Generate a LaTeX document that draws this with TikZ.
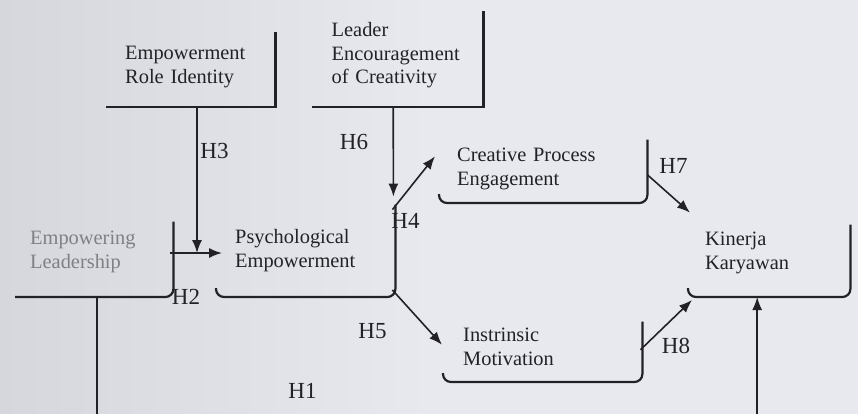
\documentclass[tikz,border=0pt]{standalone}
\usepackage{fontspec}
\setmainfont{Liberation Serif}
\usetikzlibrary{arrows.meta, positioning, calc}

\definecolor{paper}{RGB}{232,233,238}
\definecolor{paperdark}{RGB}{214,215,220}
\definecolor{ink}{RGB}{34,34,38}
\definecolor{faded}{RGB}{128,128,132}

\begin{document}
\begin{tikzpicture}[
    x=1pt, y=-1pt,
    varbox/.style={anchor=south west, align=left, inner ysep=0pt, text=ink,
      font=\fontsize{20.4}{23.4}\selectfont},
    boxline/.style={draw=ink, line width=2.2pt},
    arr/.style={draw=ink, line width=1.6pt, -{Latex[length=13pt,width=10pt]}},
    hyp/.style={text=ink, inner sep=0pt, font=\fontsize{23}{24}\selectfont}
  ]
  \useasboundingbox (0,0) rectangle (858,413);
  \shade[left color=paperdark, right color=paper, middle color=paper] (0,0) rectangle (858,413);
  \clip (0,0) rectangle (858,413);

  % variables
  \node[varbox, inner xsep=19pt, text width=131pt, text height=28pt, text depth=47pt]
    (eri) at (106,107) {Empowerment\\Role Identity};
  \node[varbox, inner xsep=19.5pt, text width=132pt, text height=26pt, text depth=70pt]
    (lec) at (312,107) {Leader\\Encouragement\\of Creativity};
  \node[varbox, inner xsep=18pt, text width=172pt, text height=22pt, text depth=41pt]
    (cpe) at (439,203) {Creative Process\\Engagement};
  \node[varbox, inner xsep=15pt, text width=128pt, text height=23pt, text depth=52pt, text=faded]
    (el) at (15,297) {Empowering\\Leadership};
  \node[varbox, inner xsep=19pt, text width=141pt, text height=39pt, text depth=53pt]
    (pe) at (216,297) {Psychological\\Empowerment};
  \node[varbox, inner xsep=17pt, text width=128pt, text height=21pt, text depth=51pt]
    (kk) at (688,297) {Kinerja\\Karyawan};
  \node[varbox, inner xsep=20pt, text width=159pt, text height=20pt, text depth=40pt]
    (im) at (443,382) {Instrinsic\\Motivation};

  % box edges
  \foreach \b in {eri, lec}
    \draw[boxline] (\b.south west) -- (\b.south east) -- (\b.north east);
  \draw[boxline, rounded corners=8pt] (el.south west) -- (el.south east) -- (el.north east);
  \foreach \b in {cpe, pe, kk, im}
    \draw[boxline, rounded corners=8pt]
      ($(\b.south west)+(0,-9)$) -- (\b.south west) -- (\b.south east) -- (\b.north east);

  % hypotheses
  \coordinate (meet) at (197,253);
  \draw[arr] (eri.south -| meet) -- (meet);
  \draw[arr] ($(el.east |- meet)+(-3,0)$) -- ($(pe.west |- meet)+(6,0)$);
  \draw[arr] ($(lec.south)+(-4.5,0)$) -- ($(pe.north east)+(-2,-8)$);
  \draw[arr] ($(pe.north east)+(-3,5)$) -- ($(cpe.west)+(-4,-15)$);
  \draw[arr] ($(pe.south east)+(-3,-7)$) -- ($(im.west)+(-1,-7)$);
  \draw[arr] ($(cpe.east)+(0,3.5)$) -- ($(kk.north west)+(2,-12)$);
  \draw[arr] ($(im.east)+(-2,-2)$) -- ($(kk.south west)+(4,3)$);
  \draw[arr] ($(el.south)+(3,0)$) -- ++(0,130) -| ($(kk.south)+(-12,0)$);

  \node[hyp] (h1) at (302.5,390.5) {H1};
  \node[hyp] (h2) at (186,296.5) {H2};
  \node[hyp] (h3) at (214.5,150.5) {H3};
  \node[hyp] (h4) at (405.5,220.5) {H4};
  \node[hyp] (h5) at (372.5,331.5) {H5};
  \node[hyp] (h6) at (354,141.5) {H6};
  \node[hyp] (h7) at (673.5,166) {H7};
  \node[hyp] (h8) at (676,345.5) {H8};
\end{tikzpicture}
\end{document}
